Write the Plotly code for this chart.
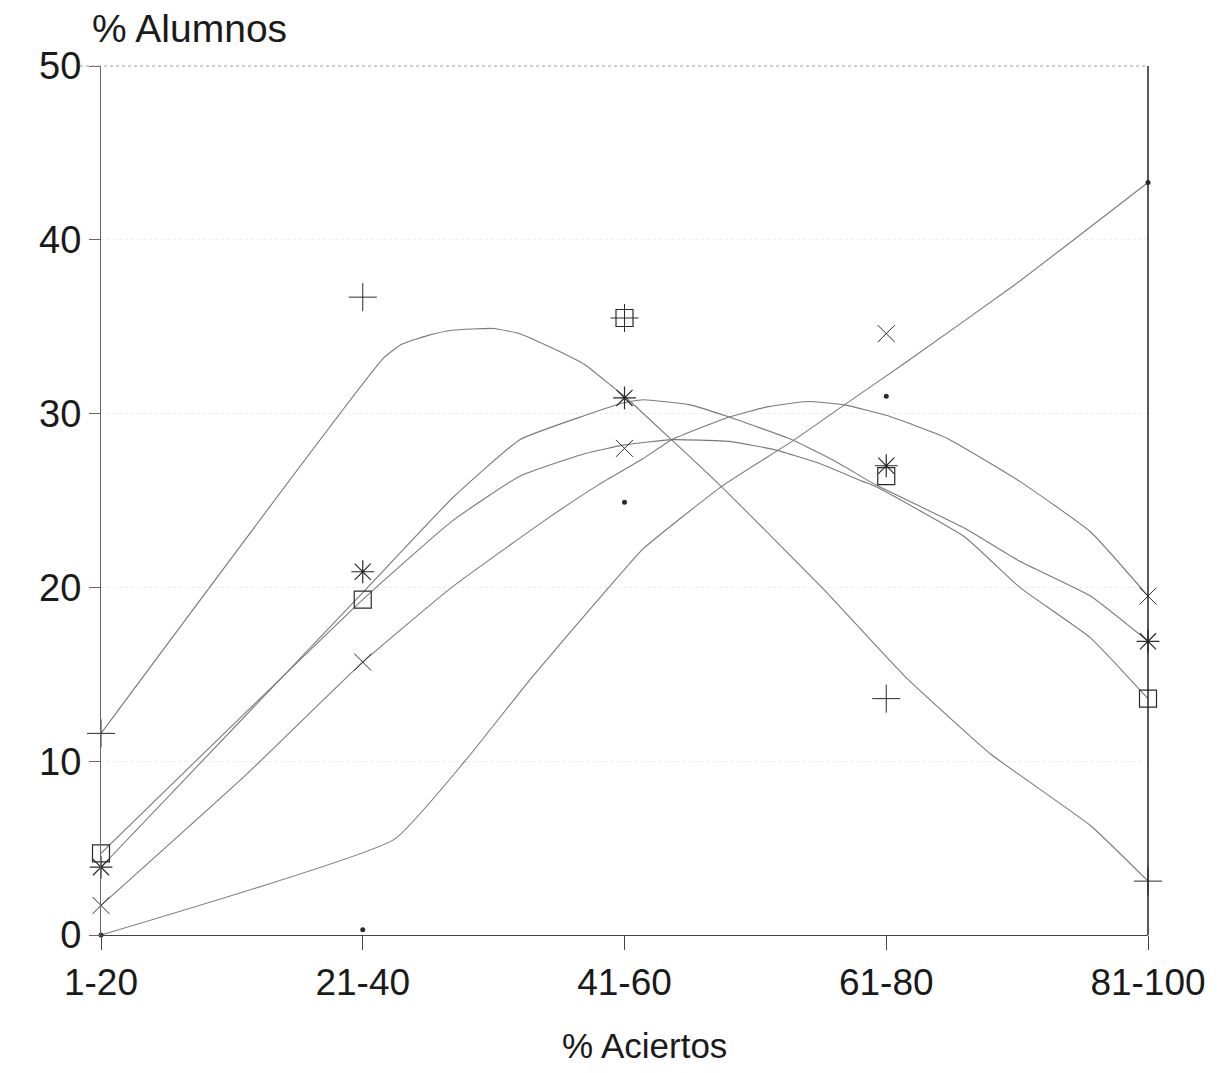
import plotly.graph_objects as go

# Categories / ticks
categories = ["1-20", "21-40", "41-60", "61-80", "81-100"]
cat_pos = [0, 1, 2, 3, 4]
y_ticks = [0, 10, 20, 30, 40, 50]

# Observed values (markers)
plus_vals = [11.6, 36.7, 35.5, 13.6, 3.1]
square_vals = [4.7, 19.3, 35.5, 26.4, 13.6]
star_vals = [3.9, 20.9, 30.9, 27.0, 16.9]
x_vals = [1.7, 15.7, 28.0, 34.6, 19.5]
dot_vals = [0.0, 0.3, 24.9, 31.0, 43.3]

# Fitted curves (position in category units, value)
plus_curve_x = [0, 1.08, 1.15, 1.25, 1.34, 1.5, 1.6, 1.72, 1.85, 1.95, 2.0, 2.37, 2.76, 3.07, 3.4, 3.78, 4.0]
plus_curve_y = [11.6, 33.2, 34.0, 34.5, 34.8, 34.9, 34.6, 33.8, 32.8, 31.6, 31.0, 25.8, 19.9, 14.9, 10.4, 6.3, 3.1]

square_curve_x = [0, 1.0, 1.34, 1.6, 1.85, 2.0, 2.18, 2.4, 2.58, 2.75, 2.91, 2.96, 3.3, 3.51, 3.78, 4.0]
square_curve_y = [4.7, 19.3, 23.8, 26.4, 27.7, 28.2, 28.5, 28.4, 27.9, 27.1, 26.1, 25.8, 22.9, 20.0, 17.1, 13.6]

star_curve_x = [0, 1.0, 1.34, 1.6, 1.85, 1.99, 2.07, 2.25, 2.4, 2.64, 2.8, 2.96, 3.3, 3.51, 3.78, 4.0]
star_curve_y = [3.9, 19.7, 25.1, 28.5, 29.9, 30.6, 30.8, 30.5, 29.8, 28.5, 27.3, 25.9, 23.4, 21.5, 19.5, 16.9]

x_curve_x = [0, 0.56, 1.0, 1.34, 1.69, 1.9, 2.07, 2.18, 2.4, 2.55, 2.7, 2.84, 3.0, 3.23, 3.51, 3.78, 4.0]
x_curve_y = [1.7, 9.3, 15.7, 20.0, 23.8, 25.9, 27.4, 28.5, 29.8, 30.4, 30.7, 30.5, 29.9, 28.6, 26.1, 23.2, 19.5]

dot_curve_x = [0, 1.12, 1.39, 1.65, 1.94, 2.07, 2.37, 2.64, 2.84, 3.07, 3.49, 4.0]
dot_curve_y = [0.0, 5.5, 10.0, 14.9, 20.0, 22.2, 25.8, 28.4, 30.5, 32.9, 37.4, 43.3]

curve_color = "#7a7a7a"
mark_color = "#2a2a2a"

fig = go.Figure()

for cx, cy in [(plus_curve_x, plus_curve_y), (square_curve_x, square_curve_y),
               (star_curve_x, star_curve_y), (x_curve_x, x_curve_y),
               (dot_curve_x, dot_curve_y)]:
    fig.add_trace(go.Scatter(x=cx, y=cy, mode="lines",
                             line=dict(color=curve_color, width=1.1, shape="spline", smoothing=0.4),
                             showlegend=False, hoverinfo="skip"))

marker_specs = [
    (plus_vals, "cross-thin-open", 20, 1.0),
    (square_vals, "square-open", 17, 1.2),
    (star_vals, "asterisk-open", 19, 1.2),
    (x_vals, "x-thin-open", 17, 1.0),
    (dot_vals, "circle", 5, 0),
]
for vals, sym, size, lw in marker_specs:
    fig.add_trace(go.Scatter(
        x=cat_pos, y=vals, mode="markers",
        marker=dict(symbol=sym, size=size, color=mark_color,
                    line=dict(color=mark_color, width=lw)),
        showlegend=False, cliponaxis=False))

font_family = "Liberation Sans, Arial, sans-serif"

fig.update_layout(
    width=1210, height=1057,
    paper_bgcolor="white", plot_bgcolor="white",
    margin=dict(l=93, r=70, t=58, b=130),
    font=dict(family=font_family, color="#1a1a1a", size=38),
    xaxis=dict(
        range=[0, 4], tickmode="array", tickvals=cat_pos, ticktext=categories,
        showgrid=False, zeroline=False, showline=True, linecolor="#444", linewidth=1.2,
        ticks="outside", ticklen=14, tickcolor="#444", tickfont=dict(size=37),
    ),
    yaxis=dict(
        range=[0, 50], tickmode="array", tickvals=y_ticks,
        showgrid=True, gridcolor="#ececec", gridwidth=1, griddash="dot",
        zeroline=False, showline=True, linecolor="#666", linewidth=1,
        ticks="outside", ticklen=11, tickcolor="#666", tickfont=dict(size=38),
    ),
    annotations=[
        dict(text="% Alumnos", xref="paper", yref="paper", x=0, y=1.0,
             xanchor="left", yanchor="middle", xshift=-11, yshift=38, showarrow=False,
             font=dict(size=39, family=font_family, color="#1a1a1a")),
        dict(text="% Aciertos", xref="paper", yref="paper", x=0.5, y=0,
             xanchor="center", yanchor="middle", xshift=20, yshift=-110, showarrow=False,
             font=dict(size=35, family=font_family, color="#1a1a1a")),
    ],
    shapes=[
        dict(type="line", xref="paper", yref="paper", x0=-0.02, x1=1, y0=1, y1=1,
             line=dict(color="#9a9a9a", width=1, dash="dot")),
        dict(type="line", xref="paper", yref="paper", x0=1, x1=1, y0=0, y1=1,
             line=dict(color="#222", width=1.5)),
    ],
)

fig.write_html("out.html")
